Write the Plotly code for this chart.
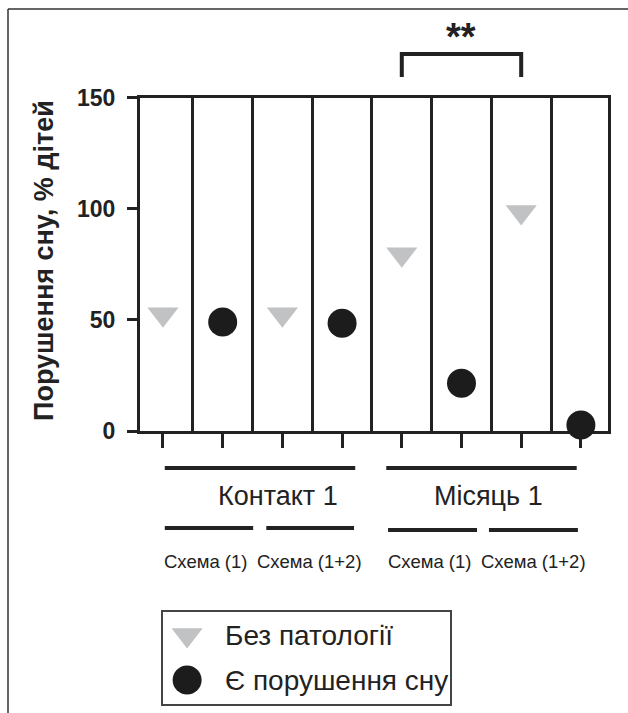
import plotly.graph_objects as go

# ---------------- data ----------------
periods = ["Контакт 1", "Місяць 1"]
schemes = ["Схема (1)", "Схема (1+2)"]
series_names = ["Без патології", "Є порушення сну"]
no_pathology = [52.5, 52.5, 79.5, 98.5]      # per (period, scheme)
sleep_disorder = [49.0, 48.5, 21.5, 2.7]
y_ticks = [0, 50, 100, 150]
y_title = "Порушення сну, % дітей"
signif_text = "**"

# ---------------- styling ----------------
W, H = 628, 713
INK = "#222222"
FONT = "Arial, Liberation Sans, sans-serif"
colors = ["#c1c2c4", "#1c1c1c"]
symbols = ["triangle-down", "circle"]
sizes = [27, 29]

def px_x(p):
    return p / W

def px_y(p):
    return (H - p) / H

series_values = [no_pathology, sleep_disorder]
n_groups = len(no_pathology)
n_series = len(series_values)

fig = go.Figure()
for s, (name, vals) in enumerate(zip(series_names, series_values)):
    xs = [g * n_series + s for g in range(n_groups)]
    fig.add_trace(go.Scatter(
        x=xs, y=vals, mode="markers", name=name, showlegend=False,
        cliponaxis=False,
        marker=dict(symbol=symbols[s], size=sizes[s], color=colors[s],
                    line=dict(width=0)),
        xaxis="x", yaxis="y",
    ))

# custom legend (own little axes)
for s, name in enumerate(series_names):
    fig.add_trace(go.Scatter(
        x=[0.084], y=[s], mode="markers", showlegend=False, hoverinfo="skip",
        marker=dict(symbol=symbols[s], size=sizes[s], color=colors[s]),
        xaxis="x2", yaxis="y2",
    ))

n_cols = n_groups * n_series
col_pos = list(range(n_cols))
dividers = [c + 0.5 for c in range(n_cols - 1)]

fig.update_layout(
    width=W, height=H,
    margin=dict(l=0, r=0, t=0, b=0, autoexpand=False),
    paper_bgcolor="white", plot_bgcolor="white",
    font=dict(family=FONT, color=INK),
    xaxis=dict(
        domain=[px_x(140), px_x(608)],
        range=[-0.385, 7.454],
        tickmode="array", tickvals=col_pos, showticklabels=False,
        ticks="outside", ticklen=14, tickwidth=3, tickcolor=INK,
        showgrid=False, zeroline=False,
        showline=True, linewidth=3, linecolor=INK, mirror=True,
        layer="below traces",
        minor=dict(tickmode="array", tickvals=dividers, showgrid=True,
                   gridcolor=INK, gridwidth=3, ticks=""),
        fixedrange=True,
    ),
    yaxis=dict(
        domain=[px_y(431), px_y(97.5)],
        range=[0, 150],
        tickmode="array", tickvals=y_ticks,
        ticks="outside", ticklen=10, tickwidth=3, tickcolor=INK,
        tickfont=dict(size=23, weight="bold", color=INK, family=FONT),
        ticklabelstandoff=7,
        showgrid=False, zeroline=False,
        showline=True, linewidth=3, linecolor=INK, mirror=True,
        layer="below traces",
        fixedrange=True,
    ),
    xaxis2=dict(
        domain=[px_x(163), px_x(450)], range=[0, 1], anchor="y2",
        showgrid=False, zeroline=False, showticklabels=False, ticks="",
        showline=True, linewidth=1.5, linecolor="#444444", mirror=True,
        fixedrange=True,
    ),
    yaxis2=dict(
        domain=[px_y(704), px_y(612)], range=[1.5333, -0.5111], anchor="x2",
        showgrid=False, zeroline=False, showticklabels=False, ticks="",
        showline=True, linewidth=1.5, linecolor="#444444", mirror=True,
        fixedrange=True,
    ),
)

shapes = []
annotations = []

# outer frame (top and left edges visible)
shapes.append(dict(type="line", xref="paper", yref="paper",
                   x0=px_x(8), x1=1.0, y0=px_y(9), y1=px_y(9),
                   line=dict(color="#333333", width=1.5)))
shapes.append(dict(type="line", xref="paper", yref="paper",
                   x0=px_x(8), x1=px_x(8), y0=px_y(9), y1=0,
                   line=dict(color="#333333", width=1.5)))

# y-axis title
annotations.append(dict(text=y_title, xref="paper", yref="paper",
                        x=px_x(44), y=px_y(261), textangle=-90,
                        showarrow=False, xanchor="center", yanchor="middle",
                        font=dict(size=27, weight="bold", color=INK, family=FONT)))

# significance bracket between the two "Місяць 1" no-pathology points
b0, b1 = 2 * n_series, 3 * n_series
shapes.append(dict(type="path", xref="x", yref="paper",
                   path=f"M {b0},{px_y(77)} L {b0},{px_y(54)} L {b1},{px_y(54)} L {b1},{px_y(77)}",
                   line=dict(color=INK, width=4)))
annotations.append(dict(text=signif_text, xref="x", yref="paper",
                        x=(b0 + b1) / 2, y=px_y(37), showarrow=False,
                        xanchor="center", yanchor="middle",
                        font=dict(size=38, weight="bold", color=INK, family=FONT)))

# group bars and labels below the axis
group_spans = [(0.03, 3.22), (3.74, 6.93)]
group_label_x = [1.93, 5.46]
for (a, b), lab, lx in zip(group_spans, periods, group_label_x):
    shapes.append(dict(type="line", xref="x", yref="paper", x0=a, x1=b,
                       y0=px_y(468), y1=px_y(468), line=dict(color=INK, width=4)))
    annotations.append(dict(text=lab, xref="x", yref="paper", x=lx, y=px_y(496),
                            showarrow=False, xanchor="center", yanchor="middle",
                            font=dict(size=27, color=INK, family=FONT)))

sub_spans = [(0.03, 1.51), (1.73, 3.2), (3.77, 5.26), (5.46, 6.95)]
sub_y = [528, 528, 530, 530]
sub_label_x = [0.72, 2.45, 4.47, 6.2]
sub_labels = [sc for _ in periods for sc in schemes]
for (a, b), yy, lab, lx in zip(sub_spans, sub_y, sub_labels, sub_label_x):
    shapes.append(dict(type="line", xref="x", yref="paper", x0=a, x1=b,
                       y0=px_y(yy), y1=px_y(yy), line=dict(color=INK, width=4)))
    annotations.append(dict(text=lab, xref="x", yref="paper", x=lx, y=px_y(561),
                            showarrow=False, xanchor="center", yanchor="middle",
                            font=dict(size=18.5, color=INK, family=FONT)))

# legend texts
for s, name in enumerate(series_names):
    annotations.append(dict(text=name, xref="x2", yref="y2", x=0.209, y=s,
                            showarrow=False, xanchor="left", yanchor="middle",
                            font=dict(size=28, color=INK, family=FONT)))

fig.update_layout(shapes=shapes, annotations=annotations)
fig.write_html("out.html",
               config={"displayModeBar": False},
               post_script="document.body.style.margin='0';document.body.style.overflow='hidden';")
